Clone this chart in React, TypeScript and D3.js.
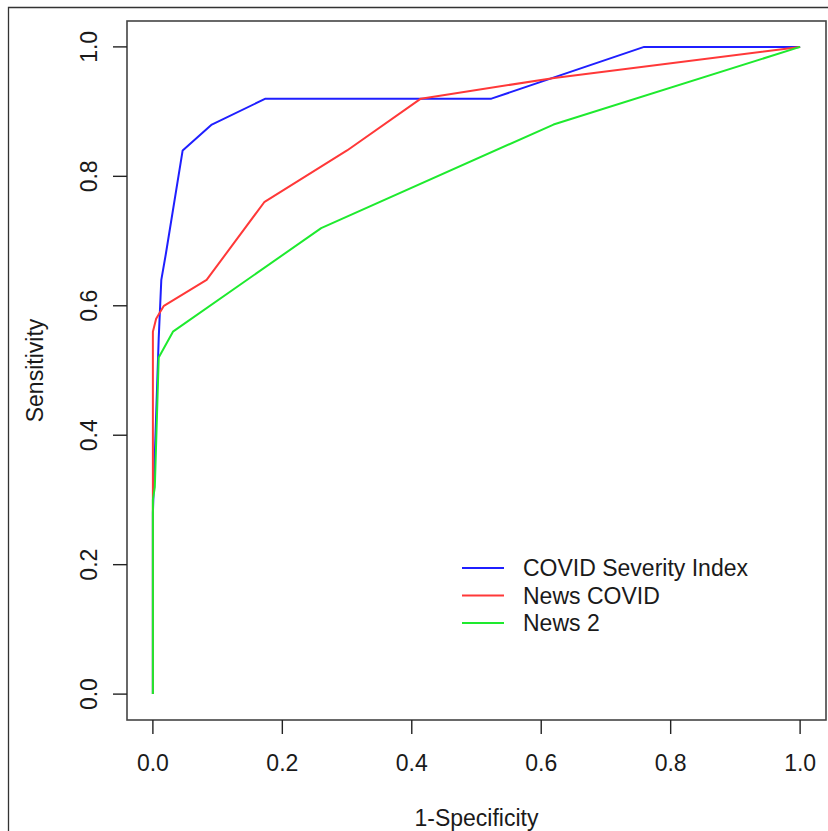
import * as d3 from "d3";
import { useMemo } from "react";

const WIDTH = 828;
const HEIGHT = 831;
// plot box (R style: 4% extension each side)
const BOX = { left: 127, right: 826, top: 21, bottom: 720 };
const FONT = "'Liberation Sans', Arial, Helvetica, sans-serif";

const X_TICKS = [0, 0.2, 0.4, 0.6, 0.8, 1.0];
const Y_TICKS = [0, 0.2, 0.4, 0.6, 0.8, 1.0];

// ROC curves: [1-specificity, sensitivity]
const severityIndex: [number, number][] = [
  [0, 0], [0, 0.28], [0.004, 0.4], [0.009, 0.55], [0.013, 0.64], [0.02, 0.68],
  [0.046, 0.84], [0.091, 0.88], [0.174, 0.92], [0.523, 0.92], [0.759, 1], [1, 1],
];
const newsCovid: [number, number][] = [
  [0, 0], [0, 0.56], [0.005, 0.58], [0.017, 0.6], [0.083, 0.64], [0.172, 0.76],
  [0.3, 0.84], [0.414, 0.92], [0.62, 0.952], [1, 1],
];
const news2: [number, number][] = [
  [0, 0], [0, 0.3], [0.003, 0.32], [0.009, 0.52], [0.031, 0.56], [0.26, 0.72],
  [0.619, 0.88], [1, 1],
];

const SERIES = [
  { name: "COVID Severity Index", color: "#1f1fff", data: severityIndex },
  { name: "News COVID", color: "#ff3838", data: newsCovid },
  { name: "News 2", color: "#1eea2e", data: news2 },
];

export default function App() {
  const x = useMemo(() => {
    const span = BOX.right - BOX.left;
    return d3.scaleLinear().domain([0, 1]).range([BOX.left + span * 0.04 / 1.08, BOX.right - span * 0.04 / 1.08]);
  }, []);
  const y = useMemo(() => {
    const span = BOX.bottom - BOX.top;
    return d3.scaleLinear().domain([0, 1]).range([BOX.bottom - span * 0.04 / 1.08, BOX.top + span * 0.04 / 1.08]);
  }, []);
  const line = d3
    .line<[number, number]>()
    .x((d) => x(d[0]))
    .y((d) => y(d[1]));

  return (
    <svg
      width={WIDTH}
      height={HEIGHT}
      viewBox={`0 0 ${WIDTH} ${HEIGHT}`}
      style={{ position: "absolute", left: 0, top: 0, background: "#fff" }}
      fontFamily={FONT}
    >
      <rect width={WIDTH} height={HEIGHT} fill="#fff" />
      {/* outer figure frame */}
      <path d={`M 8.5 ${HEIGHT} L 8.5 7.5 L ${WIDTH} 7.5`} fill="none" stroke="#333" strokeWidth={1.3} />

      <defs>
        <clipPath id="plotClip">
          <rect x={BOX.left} y={BOX.top} width={BOX.right - BOX.left} height={BOX.bottom - BOX.top} />
        </clipPath>
      </defs>
      <g clipPath="url(#plotClip)">
        {SERIES.map((s) => (
          <path key={s.name} d={line(s.data) ?? ""} fill="none" stroke={s.color} strokeWidth={2} strokeLinejoin="round" />
        ))}
      </g>

      <rect
        x={BOX.left}
        y={BOX.top}
        width={BOX.right - BOX.left}
        height={BOX.bottom - BOX.top}
        fill="none"
        stroke="#444"
        strokeWidth={1.6}
      />

      {/* x axis */}
      <g>
        {X_TICKS.map((t) => (
          <g key={t} transform={`translate(${x(t)},0)`}>
            <line y1={BOX.bottom} y2={BOX.bottom + 14} stroke="#222" strokeWidth={1.4} />
            <text y={763} textAnchor="middle" dominantBaseline="central" fontSize={23} fill="#1a1a1a">
              {d3.format(".1f")(t)}
            </text>
          </g>
        ))}
        <text x={(BOX.left + BOX.right) / 2} y={818} textAnchor="middle" dominantBaseline="central" fontSize={23} fill="#1a1a1a">
          1-Specificity
        </text>
      </g>

      {/* y axis */}
      <g>
        {Y_TICKS.map((t) => (
          <g key={t} transform={`translate(0,${y(t)})`}>
            <line x1={BOX.left} x2={BOX.left - 14} stroke="#222" strokeWidth={1.4} />
            <text
              transform={`translate(89,0) rotate(-90)`}
              textAnchor="middle"
              dominantBaseline="central"
              fontSize={23}
              fill="#1a1a1a"
            >
              {d3.format(".1f")(t)}
            </text>
          </g>
        ))}
        <text
          transform={`translate(35,${(BOX.top + BOX.bottom) / 2}) rotate(-90)`}
          textAnchor="middle"
          dominantBaseline="central"
          fontSize={23}
          fill="#1a1a1a"
        >
          Sensitivity
        </text>
      </g>

      {/* legend */}
      <g>
        {SERIES.map((s, i) => {
          const ly = 568 + i * 27.5;
          return (
            <g key={s.name}>
              <line x1={462} x2={504} y1={ly} y2={ly} stroke={s.color} strokeWidth={2} />
              <text x={523} y={ly} dominantBaseline="central" fontSize={23} fill="#1a1a1a">
                {s.name}
              </text>
            </g>
          );
        })}
      </g>
    </svg>
  );
}
